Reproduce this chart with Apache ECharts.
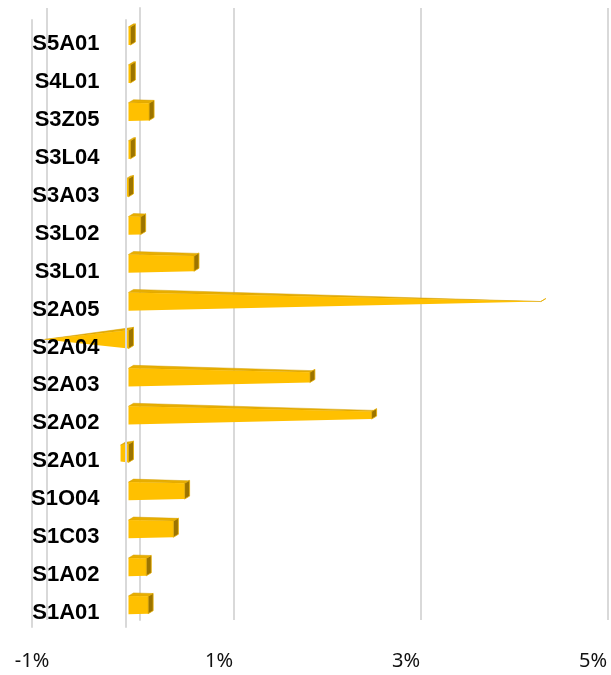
<!DOCTYPE html>
<html>
<head>
<meta charset="utf-8">
<script src="https://cdn.jsdelivr.net/npm/echarts@6/dist/echarts.min.js"></script>
<style>
html, body { margin: 0; padding: 0; background: #fff; }
#chart { width: 611px; height: 675px; }
</style>
</head>
<body>
<div id="chart"></div>
<script>
// categories bottom -> top
var categories = ['S1A01', 'S1A02', 'S1C03', 'S1O04', 'S2A01', 'S2A02', 'S2A03', 'S2A04',
                  'S2A05', 'S3L01', 'S3L02', 'S3A03', 'S3L04', 'S3Z05', 'S4L01', 'S5A01'];
// values in percent
var values = [0.21, 0.19, 0.48, 0.60, -0.085, 2.60, 1.94, -0.90,
              4.41, 0.70, 0.13, -0.03, 0.02, 0.22, 0.02, 0.02];

var axisMin = -1;
var axisMax = 5;
var axisStep = 2;

var gridColor = '#d9d9d9';
var barFront = '#FFC000';
var barTop = '#E8AE00';
var barSide = '#9C7400';

var maxPos = Math.max.apply(null, values);
var maxNeg = Math.min.apply(null, values);

var frontLeft = 32, frontRight = 18;
// shift of the category axis so it sits on 0%
var zeroShift = (611 - frontLeft - frontRight) * (0 - axisMin) / (axisMax - axisMin);

var chart = echarts.init(document.getElementById('chart'));

// cone-like 3d bar: tapers toward the largest value
function renderBar(params, api) {
    var v = api.value(0);
    var base = api.coord([0, api.value(1)]);
    var end = api.coord([v, api.value(1)]);
    var band = api.size([0, 1])[1];
    var h0 = band * 0.48;
    var ratio = v >= 0 ? 1 - v / maxPos : 1 - v / maxNeg;
    var h1 = h0 * ratio;
    var cy = base[1] - 3;
    var x0 = base[0] + 3;
    var x1 = end[0] + 3;
    var dx = 5, dy = 3;

    var front = [[x0, cy - h0 / 2], [x1, cy - h1 / 2], [x1, cy + h1 / 2], [x0, cy + h0 / 2]];
    var top = [[x0, cy - h0 / 2], [x0 + dx, cy - h0 / 2 - dy],
               [x1 + dx * ratio, cy - h1 / 2 - dy * ratio], [x1, cy - h1 / 2]];
    var sx = v >= 0 ? x1 : x0;
    var sh = v >= 0 ? h1 : h0;
    var side = [[sx, cy - sh / 2], [sx + dx, cy - sh / 2 - dy], [sx + dx, cy + sh / 2 - dy], [sx, cy + sh / 2]];

    return {
        type: 'group',
        children: [
            { type: 'polygon', shape: { points: top }, style: { fill: barTop, stroke: '#D49E00', lineWidth: 0.5 } },
            { type: 'polygon', shape: { points: front }, style: { fill: barFront } },
            { type: 'polygon', shape: { points: side }, style: { fill: barSide, stroke: '#E8AE00', lineWidth: 0.8 } }
        ]
    };
}

var option = {
    backgroundColor: '#fff',
    animation: false,
    grid: [
        { left: frontLeft, right: frontRight, top: 20, bottom: 48, outerBoundsMode: 'none' },
        { left: 46.5, right: 3.5, top: 8, bottom: 55, outerBoundsMode: 'none' }
    ],
    xAxis: [{
        gridIndex: 0,
        type: 'value',
        min: axisMin,
        max: axisMax,
        interval: axisStep,
        axisLine: { show: false },
        axisTick: { show: false },
        splitLine: { show: false },
        axisLabel: {
            formatter: '{value}%',
            fontSize: 20,
            fontFamily: 'Noto Sans',
            color: '#111',
            margin: 24
        }
    }, {
        gridIndex: 1,
        type: 'value',
        min: axisMin,
        max: axisMax,
        interval: axisStep,
        axisLine: { show: false },
        axisTick: { show: false },
        axisLabel: { show: false },
        splitLine: { show: true, lineStyle: { color: gridColor, width: 2 } }
    }],
    yAxis: [{
        gridIndex: 0,
        type: 'category',
        data: categories,
        position: 'left',
        offset: -zeroShift,
        z: 5,
        axisLine: { show: true, onZero: false, lineStyle: { color: gridColor, width: 2 } },
        axisTick: { show: false },
        axisLabel: {
            fontSize: 22,
            fontWeight: 'bold',
            fontFamily: 'Liberation Sans',
            color: '#000',
            margin: 26,
            verticalAlign: 'top',
            lineHeight: 10
        }
    }, {
        gridIndex: 0,
        type: 'category',
        data: categories,
        position: 'left',
        axisLine: { show: true, onZero: false, lineStyle: { color: gridColor, width: 2 } },
        axisTick: { show: false },
        axisLabel: { show: false }
    }, {
        gridIndex: 1,
        type: 'category',
        data: categories,
        axisLine: { show: true, onZero: true, lineStyle: { color: gridColor, width: 2 } },
        axisTick: { show: false },
        axisLabel: { show: false }
    }],
    series: [{
        type: 'custom',
        xAxisIndex: 0,
        yAxisIndex: 0,
        renderItem: renderBar,
        encode: { x: 0, y: 1 },
        data: values.map(function (v, i) { return [v, i]; })
    }]
};

chart.setOption(option);
</script>
</body>
</html>
